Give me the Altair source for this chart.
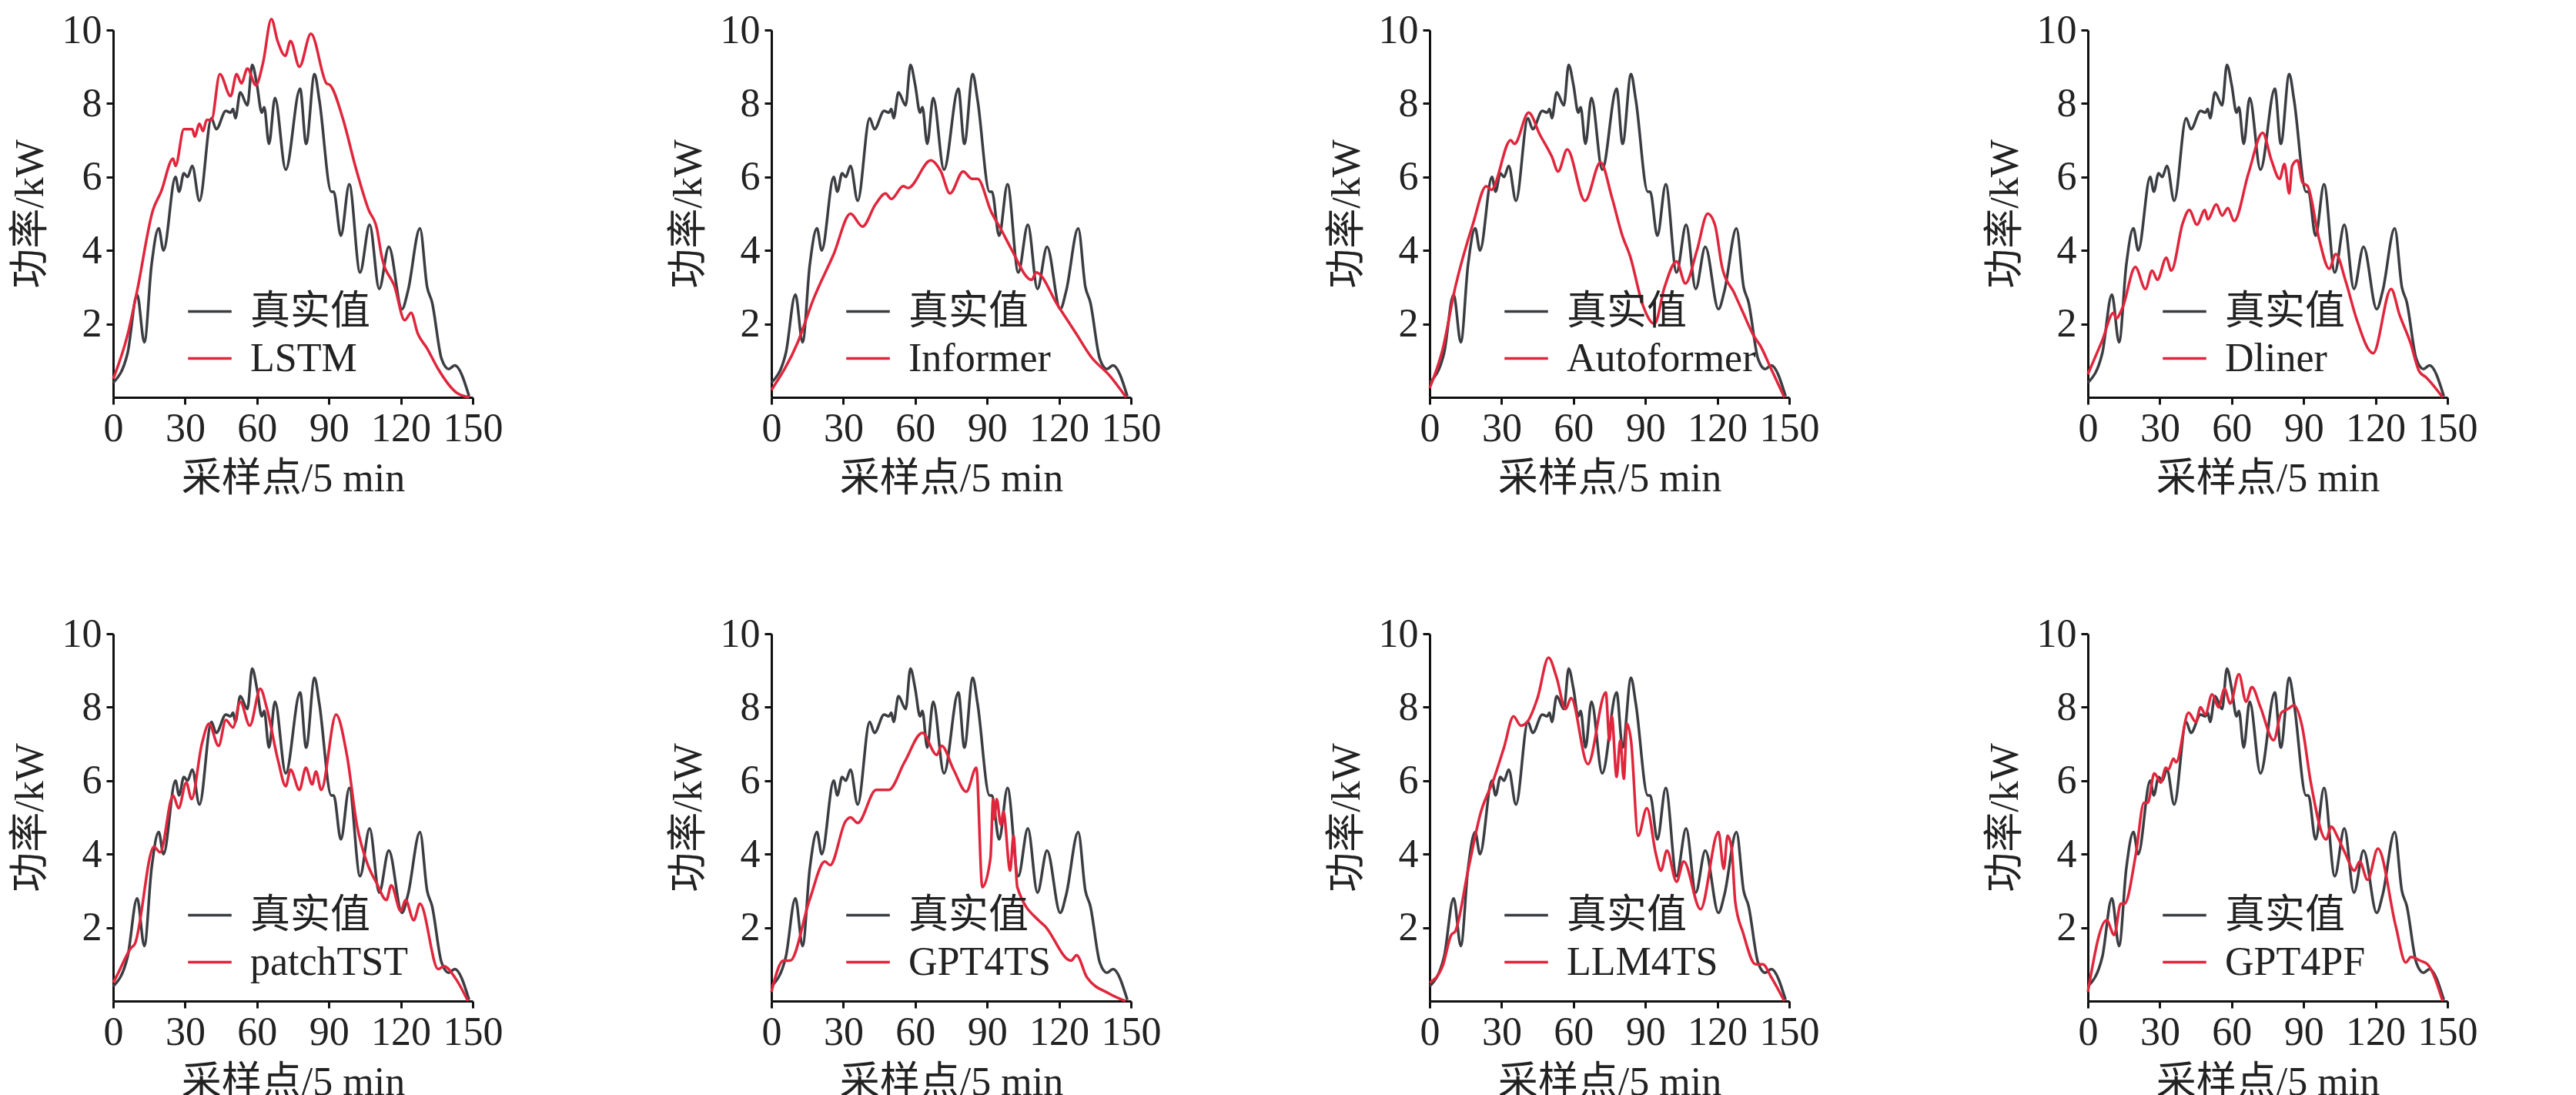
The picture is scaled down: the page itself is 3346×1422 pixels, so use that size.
import altair as alt
import pandas as pd

FONT = "Liberation Serif, Noto Sans CJK SC"

true_x = [0, 6, 10, 13, 16, 19, 21, 26, 27.5, 29.5, 31, 33, 36, 41, 43, 47, 49, 50, 51, 53, 56, 58, 60, 62, 63, 65,
          67.5, 72, 78, 80.5, 84, 86, 91, 92, 95, 98.5, 103, 107, 111, 115, 120.5, 123, 128, 131, 133, 137, 140,
          142.5, 148.5]
true_y = [0.4, 1.2, 2.8, 1.5, 3.6, 4.6, 4.0, 6.0, 5.6, 6.1, 6.0, 6.3, 5.35, 7.6, 7.3, 7.8, 7.75, 7.85, 7.6, 8.3,
          7.95, 9.05, 8.5, 7.75, 7.9, 6.9, 8.15, 6.2, 8.4, 6.9, 8.8, 8.1, 5.6, 5.6, 4.4, 5.8, 3.4, 4.7, 2.95, 4.1,
          2.4, 2.9, 4.6, 3.0, 2.6, 1.05, 0.77, 0.87, 0.03]

models = ["LSTM", "Informer", "Autoformer", "Dliner", "patchTST", "GPT4TS", "LLM4TS", "GPT4PF"]

lstm_x = [0, 6, 10, 16.6, 20, 25, 26, 29.5, 33, 34, 36, 37.5, 39, 41, 44.5, 49, 51.5, 53.5, 56, 59.5, 62.5, 66,
          68.6, 71.8, 74, 77.7, 82.5, 89, 90.5, 96, 101, 106.6, 110, 112, 117.5, 121.6, 124.3, 127, 131, 135.6, 143,
          148.5]
lstm_y = [0.5, 1.7, 2.9, 5.1, 5.6, 6.5, 6.3, 7.3, 7.3, 7.1, 7.45, 7.25, 7.55, 7.55, 8.8, 8.2, 8.8, 8.55, 8.95, 8.5,
          9.1, 10.3, 9.7, 9.3, 9.7, 9.0, 9.9, 8.55, 8.5, 7.55, 6.3, 5.1, 4.6, 3.85, 3.0, 2.1, 2.3, 1.75, 1.33, 0.77,
          0.14, 0.0]

informer_x = [0, 11, 17.7, 26, 33, 38, 43.4, 47.6, 50, 55, 57, 66.5, 70.7, 74.5, 80, 83.6, 86, 91.7, 96, 100, 108.6,
              110.4, 119.5, 127, 133.4, 141, 148]
informer_y = [0.2, 1.5, 2.7, 3.9, 5.0, 4.65, 5.25, 5.55, 5.4, 5.75, 5.7, 6.45, 6.15, 5.55, 6.15, 5.95, 5.95, 5.05,
              4.55, 4.05, 3.2, 3.4, 2.5, 1.75, 1.1, 0.6, 0.0]

autoformer_x = [0, 5.4, 10.7, 18.2, 23.6, 25.7, 33.8, 35.4, 41.3, 46, 51, 53.6, 57.4, 64.8, 71.3, 76, 80.4, 83.6,
                89, 93.8, 98, 103, 106.7, 111.5, 116, 119, 122, 127, 130.8, 135, 138, 142.5, 148]
autoformer_y = [0.25, 1.3, 3.0, 4.75, 5.75, 5.65, 7.0, 6.9, 7.75, 7.15, 6.55, 6.15, 6.75, 5.35, 6.4, 5.45, 4.4, 3.85,
                2.5, 2.0, 3.0, 3.7, 3.1, 4.0, 5.0, 4.7, 3.55, 2.85, 2.3, 1.7, 1.4, 0.77, 0.0]

dliner_x = [0, 6, 10.7, 11.8, 14.5, 19.8, 24, 26.8, 29, 32.7, 34.8, 39.6, 42.3, 45.5, 48.8, 50, 53.6, 56, 58.4, 61,
            67, 72.9, 76.6, 80, 82, 84, 85.2, 87.4, 89.5, 91.7, 96.5, 100.7, 103.4, 107.6, 112, 119, 126.5, 130,
            134.5, 138.3, 141, 148]
dliner_y = [0.63, 1.55, 2.3, 2.15, 2.45, 3.55, 2.95, 3.45, 3.2, 3.8, 3.45, 4.75, 5.1, 4.7, 5.1, 4.85, 5.25, 4.95,
            5.15, 4.8, 6.1, 7.2, 6.45, 5.95, 6.35, 5.55, 6.3, 6.45, 5.85, 5.75, 4.3, 3.5, 3.9, 3.15, 2.15, 1.2, 2.95,
            2.25, 1.5, 0.7, 0.55, 0.0]

patch_x = [0, 2, 7.5, 9, 17, 19.6, 25, 27.3, 30.5, 32.7, 37, 40, 44, 47, 50, 53, 57, 61.4, 64, 68.8, 72, 74, 77.7,
           80.4, 83, 84.6, 86.8, 93, 97.5, 101.8, 106, 110, 114, 116, 120, 122, 125.4, 128, 135.6, 138, 143, 148]
patch_y = [0.5, 0.75, 1.45, 1.55, 4.2, 4.05, 5.6, 5.25, 5.95, 5.5, 7.0, 7.55, 6.95, 7.65, 7.45, 8.15, 7.5, 8.5, 8.0,
           6.55, 5.85, 6.3, 5.75, 6.35, 5.9, 6.25, 5.75, 7.8, 6.7, 4.75, 3.75, 3.2, 2.75, 3.15, 2.45, 2.75, 2.2, 2.65,
           0.87, 0.95, 0.6, 0.0]

gpt4ts_x = [0, 5, 7.8, 15.9, 22.3, 24.5, 31, 33, 36, 43.7, 49, 55.5, 63, 69, 71, 76, 81.3, 85.5, 88, 91.4, 92.5, 93,
            94, 95.7, 96.8, 99.6, 101, 102.6, 111.4, 114, 125, 127.3, 131.6, 141, 147.7]
gpt4ts_y = [0.25, 1.1, 1.1, 2.75, 3.8, 3.7, 4.9, 5.0, 4.85, 5.75, 5.75, 6.5, 7.3, 6.7, 6.95, 6.3, 5.7, 6.35, 3.1,
            3.9, 5.5, 4.95, 5.5, 4.8, 5.15, 3.55, 4.5, 3.1, 2.2, 2.05, 1.1, 1.25, 0.65, 0.2, 0.0]

llm4ts_x = [0, 5.4, 9, 10.7, 16, 21.4, 26.8, 31, 35, 38, 40.7, 45, 49.6, 53, 56.7, 59, 66, 73.5, 75, 76, 78, 79.5,
            81, 82.3, 84, 87, 90.6, 94.4, 96.5, 99, 103, 106, 113, 120.5, 122.7, 124.3, 126, 127.5, 130.8, 136, 139,
            142.5, 148]
llm4ts_y = [0.5, 0.95, 1.8, 1.9, 3.55, 5.15, 6.05, 6.9, 7.75, 7.5, 7.6, 8.25, 9.35, 8.8, 7.95, 8.25, 6.45, 8.4, 7.1,
            7.75, 6.1, 7.1, 6.05, 7.55, 7.1, 4.5, 5.25, 4.0, 3.55, 4.1, 3.25, 3.8, 2.5, 4.6, 3.6, 4.5, 4.15, 2.7, 1.85,
            1.0, 1.0, 0.65, 0.0]

gpt4pf_x = [0, 7.8, 11, 13.7, 15.3, 20, 23.4, 25, 27.7, 30.4, 32.5, 33.6, 35.7, 36.8, 42, 45, 47, 49, 51.8, 54.5, 57,
            59.4, 63, 66, 68.4, 72, 77.5, 80.7, 83.4, 86, 89.3, 93, 99.4, 101.5, 104.3, 107.5, 111.2, 113.4, 116.7,
            121, 128.4, 132.6, 134.8, 138.6, 141.7, 148]
gpt4pf_y = [0.25, 2.2, 1.8, 2.65, 2.65, 4.0, 5.4, 5.4, 6.2, 5.95, 6.35, 6.3, 6.6, 6.5, 7.85, 7.6, 8.0, 7.8, 8.35, 8.0,
            8.5, 8.1, 8.9, 8.15, 8.55, 8.0, 7.1, 7.85, 7.95, 8.05, 7.5, 5.95, 4.4, 4.75, 4.45, 4.0, 3.55, 3.8, 3.3, 4.15,
            2.05, 1.05, 1.2, 1.1, 1.0, 0.0]

preds = {
    "LSTM": (lstm_x, lstm_y),
    "Informer": (informer_x, informer_y),
    "Autoformer": (autoformer_x, autoformer_y),
    "Dliner": (dliner_x, dliner_y),
    "patchTST": (patch_x, patch_y),
    "GPT4TS": (gpt4ts_x, gpt4ts_y),
    "LLM4TS": (llm4ts_x, llm4ts_y),
    "GPT4PF": (gpt4pf_x, gpt4pf_y),
}


def panel(name):
    px, py = preds[name]
    df = pd.concat([
        pd.DataFrame({"x": true_x, "y": true_y, "s": "真实值"}),
        pd.DataFrame({"x": px, "y": py, "s": name}),
    ])
    return (
        alt.Chart(df)
        .mark_line(strokeWidth=3.5, interpolate="monotone")
        .encode(
            x=alt.X("x:Q", title="采样点/5 min", scale=alt.Scale(domain=[0, 150], nice=False),
                    axis=alt.Axis(values=[0, 30, 60, 90, 120, 150], titlePadding=14,
                                  labelOverlap=False, labelFlush=False)),
            y=alt.Y("y:Q", title="功率/kW", scale=alt.Scale(domain=[0, 10], nice=False),
                    axis=alt.Axis(values=[2, 4, 6, 8, 10], titlePadding=14, labelOverlap=False)),
            color=alt.Color("s:N", scale=alt.Scale(domain=["真实值", name], range=["#3b3d42", "#e0263c"]),
                            sort=["真实值", name],
                            legend=alt.Legend(title=None, orient="none", legendX=95, legendY=335,
                                              symbolType="stroke", symbolSize=3200, symbolStrokeWidth=3.5,
                                              labelFontSize=52, labelFont=FONT, labelColor="#222",
                                              labelLimit=0, rowPadding=4, labelOffset=22)),
            detail="s:N",
        )
        .properties(width=467, height=477)
    )


rows = [
    alt.hconcat(*[panel(m) for m in models[:4]], spacing=215).resolve_scale(color="independent"),
    alt.hconcat(*[panel(m) for m in models[4:]], spacing=215).resolve_scale(color="independent"),
]
chart = (
    alt.vconcat(*rows, spacing=150)
    .resolve_scale(color="independent")
    .configure_view(stroke=None)
    .configure_axis(grid=False, domainColor="#111", domainWidth=3, tickColor="#111", tickWidth=3, tickSize=9,
                    labelFont=FONT, titleFont=FONT, labelFontSize=52, titleFontSize=52,
                    labelColor="#222", titleColor="#222", titleFontWeight="normal", labelPadding=6)
)

chart.save("out.html", embed_options={"renderer": "svg", "actions": False})
